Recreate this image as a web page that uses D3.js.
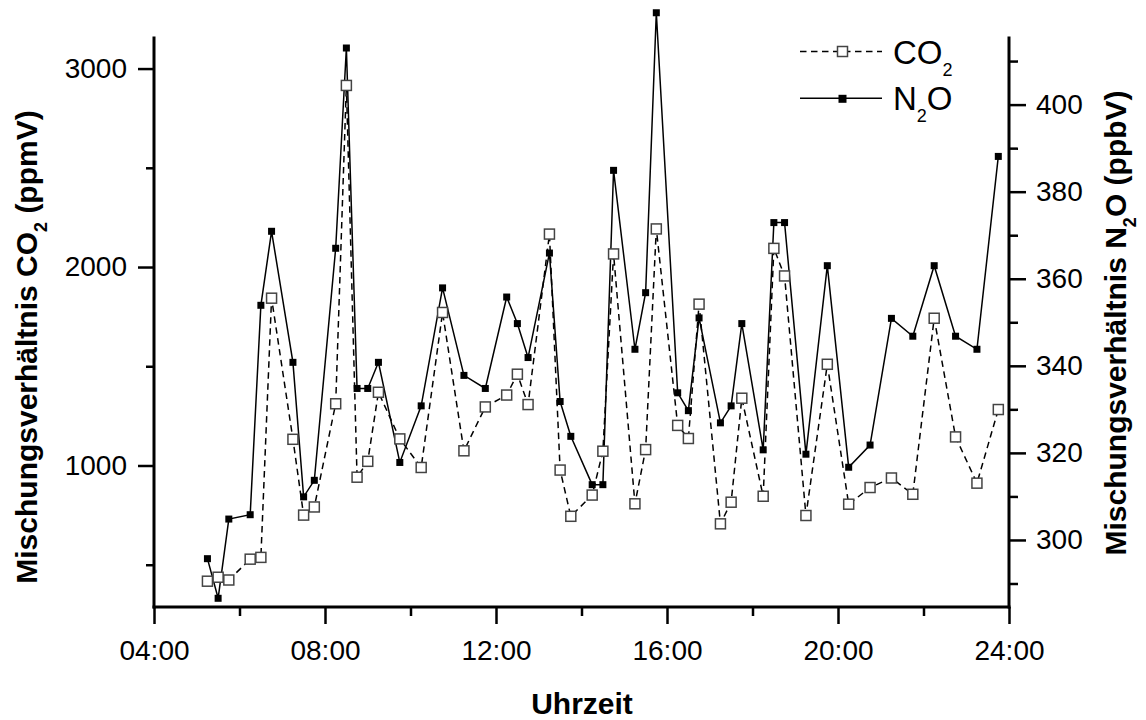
<!DOCTYPE html>
<html>
<head>
<meta charset="utf-8">
<script src="https://cdn.jsdelivr.net/npm/d3@7"></script>
<style>
  body { margin: 0; background: #fff; }
  svg { display: block; }
</style>
</head>
<body>
<div id="chart"></div>
<script>
// sampling times in hours (04:00 .. 24:00)
const times = [5.25, 5.5, 5.75, 6.25, 6.5, 6.75, 7.25, 7.5, 7.75, 8.25, 8.5, 8.75, 9.0, 9.25, 9.75, 10.25,
    10.75, 11.25, 11.75, 12.25, 12.5, 12.75, 13.25, 13.5, 13.75, 14.25, 14.5, 14.75, 15.25, 15.5, 15.75,
    16.25, 16.5, 16.75, 17.25, 17.5, 17.75, 18.25, 18.5, 18.75, 19.25, 19.75, 20.25, 20.75, 21.25, 21.75,
    22.25, 22.75, 23.25, 23.75];

// CO2 (ppmV), left axis
const co2 = [417, 437, 423, 528, 537, 1843, 1132, 750, 791, 1311, 2915, 941, 1021, 1369, 1134, 990,
    1771, 1074, 1295, 1355, 1460, 1307, 2166, 977, 744, 851, 1072, 2066, 807, 1080, 2192,
    1202, 1136, 1813, 706, 815, 1339, 845, 2094, 1955, 748, 1510, 805, 889, 937, 855,
    1742, 1144, 911, 1282];

// N2O (ppbV), right axis
const n2o = [295.7, 286.6, 304.8, 305.8, 353.9, 370.9, 340.8, 309.9, 313.7, 367, 413, 334.8, 334.8, 340.8, 317.8, 330.8,
    357.9, 337.8, 334.8, 355.8, 349.7, 341.9, 365.9, 331.8, 323.8, 312.7, 312.7, 384.9, 343.8, 356.8, 421.1,
    333.8, 329.7, 351, 326.9, 330.8, 349.7, 320.7, 372.9, 372.9, 319.7, 363, 316.7, 321.8, 350.9, 346.8,
    363, 346.8, 343.8, 388.1];

const xMajor = [4, 8, 12, 16, 20, 24];
const xMinor = [6, 10, 14, 18, 22];
const leftMajor = [1000, 2000, 3000];
const leftMinor = [500, 1500, 2500];
const rightMajor = [300, 320, 340, 360, 380, 400];
const rightMinor = [290, 310, 330, 350, 370, 390, 410];

const width = 1146, height = 720;
const plot = {left: 154, right: 1009, top: 38, bottom: 607};
const font = "'Liberation Sans', Arial, sans-serif";

const svg = d3.select("#chart").append("svg")
    .attr("width", width)
    .attr("height", height)
    .attr("font-family", font);

const xScale = d3.scaleLinear().domain([4, 24]).range([plot.left, plot.right]);
const yLeft = d3.scaleLinear().domain([287, 3154]).range([plot.bottom, plot.top]);
const yRight = d3.scaleLinear().domain([284.6, 415.3]).range([plot.bottom, plot.top]);

const fmtTime = d => String(d).padStart(2, "0") + ":00";

function styleAxis(g, fontSize){
    g.attr("font-family", font).attr("font-size", fontSize);
    g.select(".domain").remove();
    g.selectAll(".tick line").attr("stroke", "#000").attr("stroke-width", 2.5);
    g.selectAll(".tick text").attr("fill", "#000");
}

// minor ticks first
svg.append("g").attr("transform", "translate(0," + plot.bottom + ")")
    .call(d3.axisBottom(xScale).tickValues(xMinor).tickSize(9).tickFormat(""))
    .call(g => styleAxis(g, 28));
svg.append("g").attr("transform", "translate(" + plot.left + ",0)")
    .call(d3.axisLeft(yLeft).tickValues(leftMinor).tickSize(8).tickFormat(""))
    .call(g => styleAxis(g, 28));
svg.append("g").attr("transform", "translate(" + plot.right + ",0)")
    .call(d3.axisRight(yRight).tickValues(rightMinor).tickSize(9).tickFormat(""))
    .call(g => styleAxis(g, 28));

// major ticks with labels
svg.append("g").attr("transform", "translate(0," + plot.bottom + ")")
    .call(d3.axisBottom(xScale).tickValues(xMajor).tickSize(17).tickPadding(16).tickFormat(fmtTime))
    .call(g => styleAxis(g, 28));
svg.append("g").attr("transform", "translate(" + plot.left + ",0)")
    .call(d3.axisLeft(yLeft).tickValues(leftMajor).tickSize(16).tickPadding(11).tickFormat(d3.format("d")))
    .call(g => styleAxis(g, 28));
svg.append("g").attr("transform", "translate(" + plot.right + ",0)")
    .call(d3.axisRight(yRight).tickValues(rightMajor).tickSize(17).tickPadding(10).tickFormat(d3.format("d")))
    .call(g => styleAxis(g, 28));

// axis lines
const frame = svg.append("g").attr("stroke", "#000").attr("stroke-width", 3).attr("stroke-linecap", "square");
frame.append("line").attr("x1", plot.left).attr("x2", plot.right).attr("y1", plot.bottom).attr("y2", plot.bottom);
frame.append("line").attr("x1", plot.left).attr("x2", plot.left).attr("y1", plot.top).attr("y2", plot.bottom);
frame.append("line").attr("x1", plot.right).attr("x2", plot.right).attr("y1", plot.top).attr("y2", plot.bottom);

// series
const co2Data = times.map((t, i) => ({t: t, v: co2[i]}));
const n2oData = times.map((t, i) => ({t: t, v: n2o[i]}));

const co2Line = d3.line().x(d => xScale(d.t)).y(d => yLeft(d.v));
const n2oLine = d3.line().x(d => xScale(d.t)).y(d => yRight(d.v));

svg.append("path").datum(co2Data)
    .attr("d", co2Line)
    .attr("fill", "none")
    .attr("stroke", "#000")
    .attr("stroke-width", 1.5)
    .attr("stroke-dasharray", "6.5,4.5");

svg.append("path").datum(n2oData)
    .attr("d", n2oLine)
    .attr("fill", "none")
    .attr("stroke", "#000")
    .attr("stroke-width", 1.5);

const openSize = 10, fillSize = 7;

svg.append("g").selectAll("rect")
    .data(co2Data)
    .join("rect")
    .attr("x", d => xScale(d.t) - openSize / 2)
    .attr("y", d => yLeft(d.v) - openSize / 2)
    .attr("width", openSize)
    .attr("height", openSize)
    .attr("fill", "#fff")
    .attr("stroke", "#444")
    .attr("stroke-width", 1.5);

svg.append("g").selectAll("rect")
    .data(n2oData)
    .join("rect")
    .attr("x", d => xScale(d.t) - fillSize / 2)
    .attr("y", d => yRight(d.v) - fillSize / 2)
    .attr("width", fillSize)
    .attr("height", fillSize)
    .attr("fill", "#000");

// legend
const legend = svg.append("g");
legend.append("line").attr("x1", 800).attr("x2", 882).attr("y1", 51.5).attr("y2", 51.5)
    .attr("stroke", "#000").attr("stroke-width", 1.5).attr("stroke-dasharray", "6.5,4.5");
legend.append("rect").attr("x", 842.5 - openSize / 2).attr("y", 51.5 - openSize / 2)
    .attr("width", openSize).attr("height", openSize)
    .attr("fill", "#fff").attr("stroke", "#444").attr("stroke-width", 1.5);
legend.append("line").attr("x1", 800).attr("x2", 882).attr("y1", 98.3).attr("y2", 98.3)
    .attr("stroke", "#000").attr("stroke-width", 1.5);
legend.append("rect").attr("x", 842 - fillSize / 2).attr("y", 98.3 - fillSize / 2)
    .attr("width", fillSize + 1).attr("height", fillSize + 1).attr("fill", "#000");

const co2Text = legend.append("text").attr("x", 893).attr("y", 63.5).attr("font-size", 33);
co2Text.append("tspan").text("CO");
co2Text.append("tspan").attr("font-size", 18).attr("dy", 12).text("2");

const n2oText = legend.append("text").attr("x", 893).attr("y", 110).attr("font-size", 33);
n2oText.append("tspan").text("N");
n2oText.append("tspan").attr("font-size", 18).attr("dy", 12).text("2");
n2oText.append("tspan").attr("dy", -12).text("O");

// axis titles
svg.append("text")
    .attr("x", 582).attr("y", 714)
    .attr("text-anchor", "middle")
    .attr("font-size", 30).attr("font-weight", "bold")
    .text("Uhrzeit");

const leftTitle = svg.append("text")
    .attr("transform", "translate(37,347) rotate(-90)")
    .attr("text-anchor", "middle")
    .attr("font-size", 30).attr("font-weight", "bold");
leftTitle.append("tspan").text("Mischungsverhältnis CO");
leftTitle.append("tspan").attr("font-size", 18).attr("dy", 10).text("2");
leftTitle.append("tspan").attr("dy", -10).text(" (ppmV)");

const rightTitle = svg.append("text")
    .attr("transform", "translate(1126,323) rotate(-90)")
    .attr("text-anchor", "middle")
    .attr("font-size", 30).attr("font-weight", "bold");
rightTitle.append("tspan").text("Mischungsverhältnis N");
rightTitle.append("tspan").attr("font-size", 18).attr("dy", 10).text("2");
rightTitle.append("tspan").attr("dy", -10).text("O (ppbV)");
</script>
</body>
</html>
